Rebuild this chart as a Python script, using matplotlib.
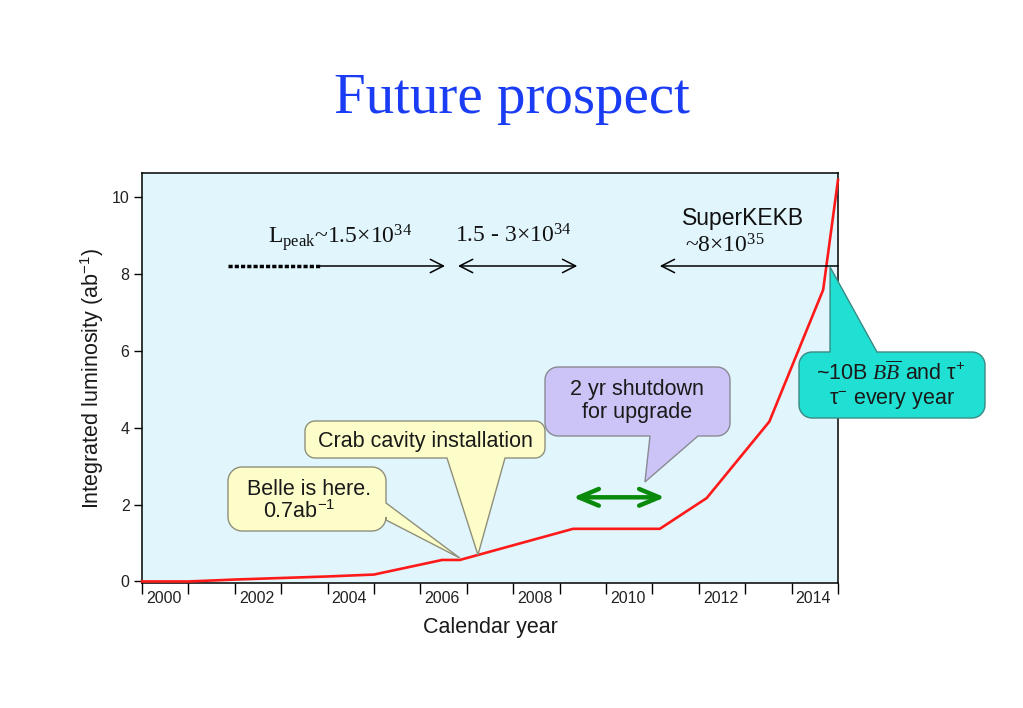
import numpy as np
import matplotlib
matplotlib.use('Agg')
import matplotlib.pyplot as plt
from matplotlib.patches import Polygon
from matplotlib.transforms import IdentityTransform

plt.rcParams['font.family'] = ['Liberation Sans', 'DejaVu Sans']
plt.rcParams['mathtext.fontset'] = 'custom'
plt.rcParams['mathtext.rm'] = 'Liberation Serif'
plt.rcParams['mathtext.it'] = 'Liberation Serif:italic'
plt.rcParams['mathtext.default'] = 'regular'

# %% data
years = [2000, 2001, 2002, 2004, 2005, 2006.47, 2006.85, 2009.29, 2011.16,
         2012.17, 2013.52, 2014.68, 2015.0]
lumi = [0, 0, 0.05, 0.13, 0.18, 0.56, 0.56, 1.37, 1.37, 2.17, 4.16, 7.59, 10.45]
year_ticks = list(range(2000, 2016))
year_labels = ['2000', '2002', '2004', '2006', '2008', '2010', '2012', '2014']
lumi_ticks = [0, 2, 4, 6, 8, 10]

# luminosity periods (start, end) in years, at height arrow_y
arrow_y = 8.21
kekb_dashed = (2001.85, 2003.84)
kekb_solid = (2003.84, 2006.53)
crab_period = (2006.81, 2009.38)
super_period = (2011.16, 2015.0)
shutdown = (2009.29, 2011.27)
shutdown_y = 2.19

# callout tips (data coords)
tip_belle = (2006.85, 0.61)
tip_crab = (2007.24, 0.69)
tip_shut = (2010.84, 2.59)
tip_bb = (2014.83, 8.18)

W, H = 1023, 708
fig = plt.figure(figsize=(W / 100, H / 100), dpi=100)
ax = fig.add_axes([142 / W, 1 - 583 / H, 696 / W, 410 / H])
ax.set_facecolor('#e1f5fc')
for s in ax.spines.values():
    s.set_linewidth(1.1)

ax.plot(years, lumi, color='#ff1a1a', lw=1.9, zorder=3, clip_on=False)
ax.set_xlim(2000, 2015)
ax.set_ylim(-0.04, 10.63)

ax.set_xticks(year_ticks, labels=[])
ax.set_xticks([int(l) + 0.47 for l in year_labels], labels=year_labels, minor=True)
ax.tick_params(axis='x', which='major', direction='out', length=8, width=1)
ax.tick_params(axis='x', which='minor', length=0, pad=6, labelsize=11.5, labelcolor='#222222')
ax.set_yticks(lumi_ticks)
ax.tick_params(axis='y', direction='out', length=6, width=1, pad=3, labelsize=11.5, labelcolor='#222222')

# %% arrows
ax.plot(kekb_dashed, [arrow_y, arrow_y], color='k', lw=2.5, ls=(0, (1.2, 0.6)), zorder=4)
head = '->,head_length=0.47,head_width=0.24'
ax.annotate('', xy=(kekb_solid[1], arrow_y), xytext=(kekb_solid[0], arrow_y),
            arrowprops=dict(arrowstyle=head, lw=1.1, color='k', mutation_scale=20,
                            shrinkA=0, shrinkB=0))
ax.annotate('', xy=(crab_period[1], arrow_y), xytext=(crab_period[0], arrow_y),
            arrowprops=dict(arrowstyle='<' + head, lw=1.1, color='k', mutation_scale=20,
                            shrinkA=0, shrinkB=0))
ax.annotate('', xy=(super_period[0], arrow_y), xytext=(super_period[1], arrow_y),
            arrowprops=dict(arrowstyle=head, lw=1.1, color='k', mutation_scale=20,
                            shrinkA=0, shrinkB=0))
ax.annotate('', xy=(shutdown[1], shutdown_y), xytext=(shutdown[0], shutdown_y),
            arrowprops=dict(arrowstyle='<->,head_length=0.72,head_width=0.3', lw=3.2,
                            color='#0a8a0a', mutation_scale=20, shrinkA=0, shrinkB=0))

serif = dict(fontfamily='Liberation Serif', fontsize=17, va='baseline', ha='center', color='#111111')
ax.text(2004.27, 8.81, r'L$_{\mathrm{peak}}$~1.5×10$^{34}$', **serif)
ax.text(2008.01, 8.81, r'1.5 - 3×10$^{34}$', **serif)
ax.text(2012.56, 8.55, r'~8×10$^{35}$', **serif)
ax.text(2012.95, 9.28, 'SuperKEKB', fontsize=16.5, ha='center', va='baseline', color='#111111')


# %% callouts
def arc(cx, cy, r, a0, a1):
    t = np.radians(np.linspace(a0, a1, 12))
    return list(zip(cx + r * np.cos(t), cy + r * np.sin(t)))


def bubble(box, r, side, base, tip, fc, ec):
    L, T, R, B = box
    yb, yt = H - B, H - T
    tx, ty = ax.transData.transform(tip)
    pts = [(L + r, yb)]
    if side == 'bottom':
        pts += [(base[0], yb), (tx, ty), (base[1], yb)]
    pts += arc(R - r, yb + r, r, -90, 0)
    if side == 'right':
        pts += [(R, H - base[1]), (tx, ty), (R, H - base[0])]
    pts += arc(R - r, yt - r, r, 0, 90)
    if side == 'top':
        pts += [(base[1], yt), (tx, ty), (base[0], yt)]
    pts += arc(L + r, yt - r, r, 90, 180)
    pts += arc(L + r, yb + r, r, 180, 270)
    p = Polygon(pts, closed=True, fc=fc, ec=ec, lw=1.0,
                transform=IdentityTransform(), zorder=5)
    fig.add_artist(p)


yellow, yedge = '#fdfdc9', '#8f8f7a'
bubble((228, 467, 386, 531), 14, 'right', (503, 520), tip_belle, yellow, yedge)
bubble((305, 421, 545, 458), 10, 'bottom', (447, 505), tip_crab, yellow, yedge)
bubble((545, 367, 730, 436), 13, 'bottom', (650, 698), tip_shut, '#ccc4f6', '#8a8a95')
bubble((799, 352, 985, 418), 13, 'top', (830, 877), tip_bb, '#1fe0d2', '#3a8a85')


def label(x, y, s, **kw):
    fig.text(x / W, 1 - y / H, s, va='baseline', zorder=6, color='#1a1a1a', **kw)


box_font = 15.5
label(247, 495, 'Belle is here.', fontsize=box_font)
label(263, 518, r'0.7ab$^{-1}$', fontsize=box_font)
label(425, 447, 'Crab cavity installation', fontsize=box_font, ha='center')
label(637, 395, '2 yr shutdown', fontsize=box_font, ha='center')
label(637, 418, 'for upgrade', fontsize=box_font, ha='center')
label(891, 380, r'~10B $\mathit{B\overline{B}}$ and τ$^{+}$', fontsize=box_font, ha='center')
label(892, 405, r'τ$^{-}$ every year', fontsize=box_font, ha='center')

# %% axis labels and title
label(490, 633, 'Calendar year', fontsize=15.5, ha='center')
fig.text(92 / W, 1 - 378 / H, r'Integrated luminosity (ab$^{-1}$)', fontsize=15.5,
         rotation=90, ha='center', va='center', color='#1a1a1a')
fig.text(0.5, 1 - 113 / H, 'Future prospect', fontfamily='Liberation Serif', fontsize=41,
         color='#1a3cf5', ha='center', va='baseline')

fig.savefig('out.png', dpi=100)
